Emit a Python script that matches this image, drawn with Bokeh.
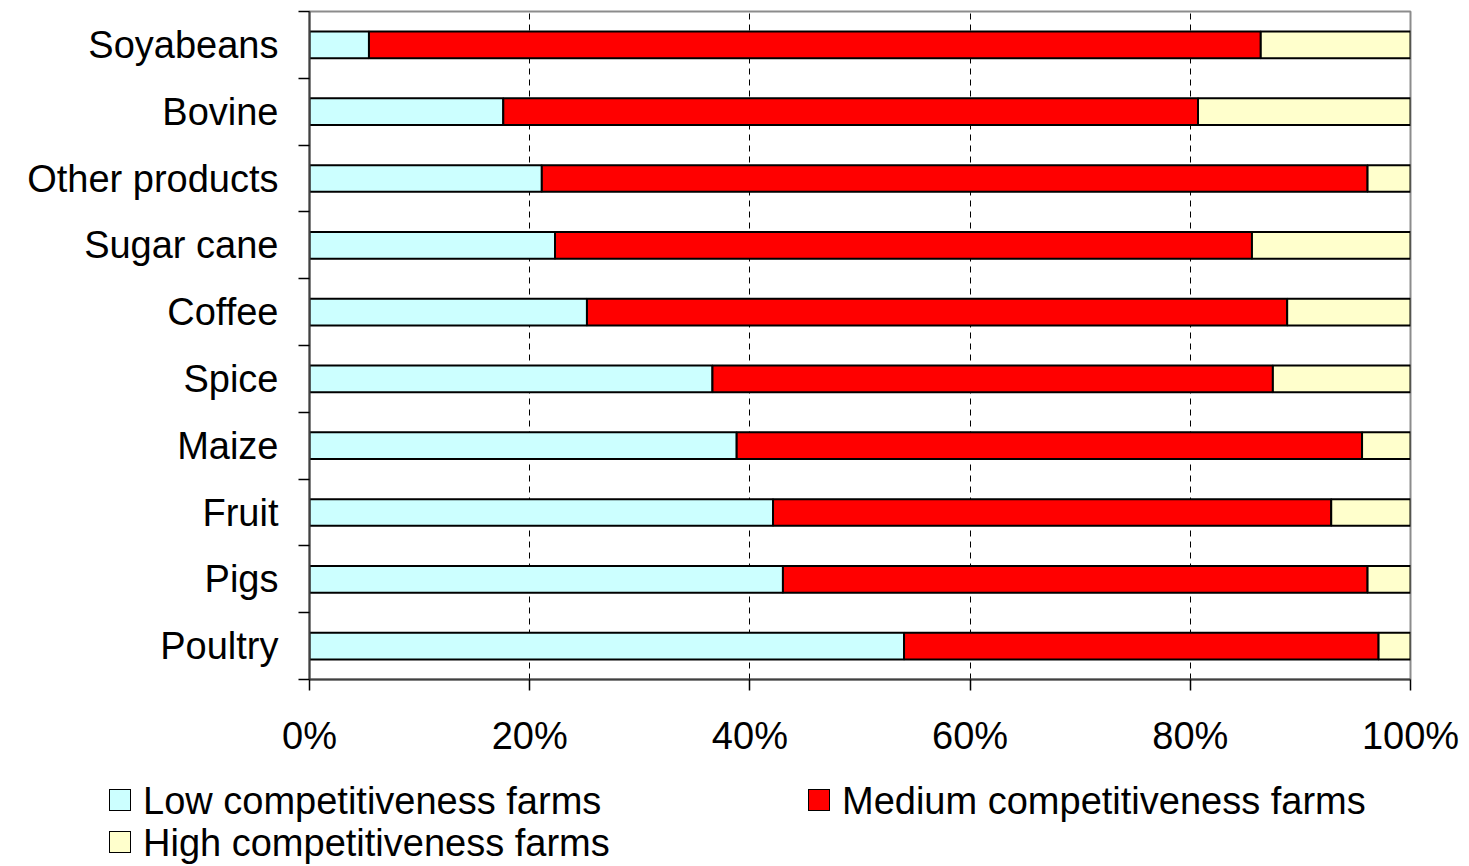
import numpy as np
from bokeh.plotting import figure
from bokeh.layouts import column
from bokeh.models import (ColumnDataSource, Range1d, FixedTicker, PrintfTickFormatter, Div)
from bokeh.embed import file_html
from bokeh.resources import INLINE

# ---- data (bottom to top) ----
categories = ["Poultry", "Pigs", "Fruit", "Maize", "Spice", "Coffee",
              "Sugar cane", "Other products", "Bovine", "Soyabeans"]
low = [54.0, 43.0, 42.1, 38.8, 36.6, 25.2, 22.3, 21.1, 17.6, 5.4]
medium = [43.1, 53.1, 50.7, 56.8, 50.9, 63.6, 63.3, 75.0, 63.1, 81.0]
high = [2.9, 3.9, 7.2, 4.4, 12.5, 11.2, 14.4, 3.9, 19.3, 13.6]
series_labels = ["Low competitiveness farms", "Medium competitiveness farms",
                 "High competitiveness farms"]
x_ticks = [0, 20, 40, 60, 80, 100]

colors = ["#CCFFFF", "#FF0000", "#FFFFCC"]
FONT = "Liberation Sans"
FS = "38px"
W = 1461
TOP, FRAME_H, BOTTOM = 11, 668, 85
TOTAL_H = 858

n = len(categories)
pos = np.arange(n) + 0.5
bounds = np.arange(n + 1)

source = ColumnDataSource(dict(pos=pos, low=low, medium=medium, high=high))

p = figure(frame_width=1101, frame_height=FRAME_H,
           x_range=Range1d(0, 100), y_range=Range1d(0, n),
           output_backend="svg", toolbar_location=None,
           min_border_left=309, min_border_right=51,
           min_border_top=TOP, min_border_bottom=BOTTOM)
p.background_fill_color = "white"
p.border_fill_color = "white"
p.outline_line_color = "#8c8c8c"
p.outline_line_width = 2

renderers = p.hbar_stack(["low", "medium", "high"], y="pos", height=0.4,
                         color=colors, line_color="black", line_width=2,
                         source=source)

# x axis
xa = p.xaxis[0]
xa.ticker = FixedTicker(ticks=x_ticks, minor_ticks=[])
xa.formatter = PrintfTickFormatter(format="%d%%")
xa.major_label_text_font = FONT
xa.major_label_text_font_size = FS
xa.major_label_text_color = "black"
xa.major_tick_out = 11
xa.major_tick_in = 0
xa.major_tick_line_color = "black"
xa.major_tick_line_width = 1.5
xa.axis_line_color = "#404040"
xa.axis_line_width = 2
xa.major_label_standoff = 24

# y axis
ya = p.yaxis[0]
ya.ticker = FixedTicker(ticks=list(pos), minor_ticks=list(bounds))
ya.major_label_overrides = {float(c): name for c, name in zip(pos, categories)}
ya.major_label_text_font = FONT
ya.major_label_text_font_size = FS
ya.major_label_text_color = "black"
ya.major_tick_out = 0
ya.major_tick_in = 0
ya.minor_tick_out = 11
ya.minor_tick_in = 0
ya.minor_tick_line_color = "black"
ya.minor_tick_line_width = 1.5
ya.axis_line_color = "#404040"
ya.axis_line_width = 2
ya.major_label_standoff = 20

# grid
p.ygrid.visible = False
p.xgrid.ticker = FixedTicker(ticks=x_ticks[1:-1])
p.xgrid.grid_line_color = "black"
p.xgrid.grid_line_dash = "6 5"
p.xgrid.grid_line_width = 1

# ---- legend strip below the plot (positioned HTML) ----
main_h = TOP + FRAME_H + BOTTOM
leg_h = TOTAL_H - main_h
# (left px, row centre px) for each legend entry
legend_slots = [(109, 37), (808, 37), (109, 79)]
parts = []
for label, col, (lx, cy) in zip(series_labels, colors, legend_slots):
    parts.append(
        f'<div style="position:absolute;left:{lx}px;top:{cy - 12}px;width:22px;height:22px;'
        f'background:{col};border:1px solid #000;"></div>'
        f'<div style="position:absolute;left:{lx + 34}px;top:{cy - 22}px;height:44px;'
        f'line-height:44px;white-space:nowrap;">{label}</div>'
    )
legend_html = (
    f'<div style="position:relative;width:{W}px;height:{leg_h}px;'
    f"font-family:'{FONT}';font-size:{FS};color:#000;overflow:visible;\">"
    + "".join(parts) + "</div>"
)
legend_div = Div(text=legend_html, width=W, height=leg_h, margin=0)

layout = column(p, legend_div, spacing=0)
open("out.html", "w").write(file_html(layout, INLINE))
